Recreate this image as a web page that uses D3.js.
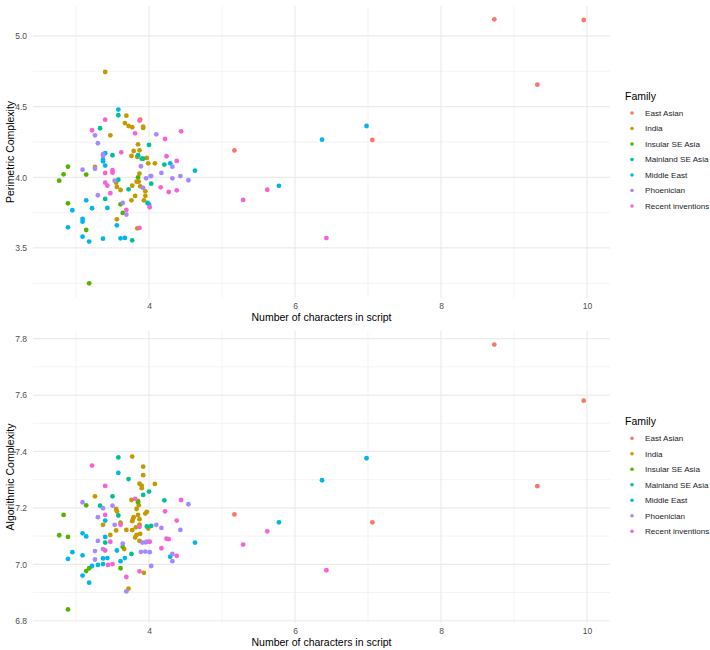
<!DOCTYPE html>
<html><head><meta charset="utf-8">
<script src="https://cdn.jsdelivr.net/npm/d3@7"></script>
<style>body{margin:0;background:#fff}svg{display:block;font-family:"Liberation Sans",Arial,sans-serif}</style>
</head><body><svg id="c" width="710" height="650"></svg>
<script>
const families = ["East Asian","India","Insular SE Asia","Mainland SE Asia","Middle East","Phoenician","Recent inventions"];
const colors = ["#F8766D","#C49A00","#53B400","#00C094","#00B6EB","#A58AFF","#FB61D7"];
const xTicks = [4,6,8,10];
const xMinor = [3,5,7,9];
const perimTicks = [3.5,4.0,4.5,5.0];
const perimMinor = [3.25,3.75,4.25,4.75];
const algoTicks = [6.8,7.0,7.2,7.4,7.6,7.8];
const algoMinor = [6.9,7.1,7.3,7.5,7.7];

// Perimetric complexity: [chars, value]
const perimEastAsian = [[5.17,4.19],[7.06,4.264],[8.73,5.118],[9.32,4.655],[9.955,5.113]];
const perimIndia = [[3.40,4.745],[3.69,4.436],[3.67,4.384],[3.72,4.363],[3.77,4.354],[3.88,4.408],[3.92,4.358],[3.92,4.349],
  [3.47,4.297],[3.85,4.233],[3.79,4.186],[3.87,4.191],[3.76,4.151],[3.84,4.144],[3.97,4.137],[3.99,4.099],[4.08,4.099],
  [3.26,4.073],[3.87,4.026],[3.55,3.962],[3.56,3.932],[3.61,3.910],[3.77,3.941],[3.83,3.969],[3.86,3.969],[3.88,3.936],
  [3.81,3.868],[3.95,3.901],[3.95,3.868],[3.76,3.837],[3.93,3.837],[3.56,3.703],[3.84,3.639]];
const perimInsular = [[2.77,3.976],[2.83,4.021],[2.89,4.075],[2.89,3.816],[3.14,4.019],[3.14,3.627],[3.18,3.25],
  [3.61,3.809],[3.64,3.748],[3.85,4.0]];
const perimMainland = [[3.58,4.439],[3.33,4.347],[4.00,4.229],[3.50,4.156],[3.85,4.156],[3.90,4.132],[3.92,4.132],
  [4.21,4.090],[3.58,3.983],[4.03,3.955],[3.72,3.915],[3.40,3.847],[3.98,3.818],[3.77,3.554]];
const perimMiddleEast = [[3.58,4.479],[3.40,4.170],[3.37,4.125],[3.37,4.113],[3.40,4.083],[4.29,4.099],[4.63,4.047],
  [3.14,3.837],[2.95,3.767],[3.22,3.781],[3.43,3.783],[4.00,3.809],[3.09,3.705],[3.09,3.686],[2.89,3.646],[3.56,3.660],
  [3.09,3.580],[3.18,3.545],[3.37,3.566],[3.61,3.568],[3.67,3.571],[5.78,3.94],[6.37,4.266],[6.98,4.363]];
const perimPhoenician = [[3.26,4.297],[4.10,4.304],[3.30,4.241],[3.37,4.163],[3.37,4.151],[3.26,4.061],[3.89,4.078],
  [3.09,4.054],[4.17,4.031],[4.32,4.075],[3.96,3.993],[4.02,4.009],[4.03,4.009],[4.43,4.009],[4.32,3.993],[4.54,3.979],
  [3.53,3.976],[3.92,3.925],[3.30,3.873],[3.64,3.818],[3.69,3.736]];
const perimRecent = [[3.40,4.408],[3.87,4.401],[3.22,4.333],[3.81,4.311],[4.44,4.325],[4.22,4.271],[3.62,4.177],
  [4.24,4.149],[4.38,4.116],[3.50,4.050],[3.50,4.033],[3.40,4.031],[3.40,3.962],[3.43,3.941],[4.16,3.929],[4.38,3.908],
  [4.27,3.896],[3.47,3.887],[3.69,3.769],[4.01,3.788],[3.87,3.642],[5.29,3.84],[5.62,3.912],[6.43,3.57]];

// Algorithmic complexity: [chars, value]
const algoEastAsian = [[5.17,7.177],[7.06,7.149],[8.73,7.779],[9.32,7.277],[9.955,7.58]];
const algoIndia = [[3.77,7.382],[3.92,7.346],[3.92,7.316],[3.87,7.286],[3.90,7.279],[3.90,7.270],[4.08,7.285],[3.26,7.241],
  [3.76,7.228],[3.85,7.225],[3.86,7.209],[3.83,7.196],[3.85,7.175],[3.55,7.196],[3.56,7.188],[3.97,7.186],[3.95,7.180],
  [3.79,7.167],[3.78,7.161],[3.77,7.153],[3.87,7.160],[3.87,7.141],[3.82,7.131],[3.37,7.140],[3.61,7.148],[3.99,7.127],
  [3.55,7.120],[3.69,7.122],[3.77,7.121],[3.47,7.104],[3.83,7.104],[3.88,7.108],[3.81,7.095],[3.87,7.083],[3.66,7.054],
  [3.93,6.970],[3.72,6.914]];
const algoInsular = [[2.77,7.103],[2.83,7.175],[2.89,7.097],[2.89,6.84],[3.14,7.209],[3.14,6.976],[3.18,6.986],
  [3.61,6.986],[3.64,7.062],[3.85,7.22]];
const algoMainland = [[3.58,7.379],[3.72,7.302],[3.50,7.241],[3.92,7.246],[4.00,7.258],[4.21,7.227],[3.33,7.208],
  [3.58,7.173],[3.97,7.134],[4.03,7.136],[3.40,7.077],[3.76,7.037]];
const algoMiddleEast = [[3.58,7.324],[3.40,7.155],[3.09,7.110],[3.14,7.099],[3.40,7.097],[4.63,7.077],[2.95,7.043],
  [2.89,7.019],[3.09,7.032],[3.56,7.049],[4.29,7.027],[3.37,7.021],[3.43,7.022],[3.30,6.998],[3.37,7.001],[3.22,6.994],
  [3.61,7.011],[3.67,7.022],[3.09,6.960],[3.18,6.935],[5.78,7.149],[6.37,7.298],[6.98,7.376]];
const algoPhoenician = [[4.54,7.213],[3.09,7.220],[3.37,7.199],[3.50,7.208],[3.30,7.167],[3.53,7.140],[4.10,7.140],
  [4.17,7.129],[4.43,7.122],[3.30,7.083],[3.91,7.077],[3.95,7.078],[3.97,7.080],[3.26,7.047],[3.37,7.054],[3.64,7.073],
  [3.89,7.044],[3.95,7.045],[4.01,7.043],[4.32,7.037],[4.32,7.011],[3.26,7.017],[4.03,6.994],[3.69,6.904]];
const algoRecent = [[3.22,7.350],[3.40,7.278],[3.81,7.232],[4.44,7.228],[4.22,7.188],[3.40,7.175],[3.61,7.140],
  [4.38,7.155],[3.47,7.080],[4.01,7.080],[4.24,7.091],[4.27,7.089],[3.40,7.049],[4.17,7.057],[4.38,7.030],[3.44,6.998],
  [3.50,7.001],[3.69,6.955],[3.87,6.975],[3.87,7.133],[5.29,7.07],[5.62,7.117],[6.43,6.979]];

const perimSeries = [perimEastAsian,perimIndia,perimInsular,perimMainland,perimMiddleEast,perimPhoenician,perimRecent];
const algoSeries = [algoEastAsian,algoIndia,algoInsular,algoMainland,algoMiddleEast,algoPhoenician,algoRecent];

const svg = d3.select("#c");

function panel(cfg){
  const g = svg.append("g");
  const x = d3.scaleLinear().domain([2.411,10.315]).range([33,610]);
  const y = d3.scaleLinear().domain(cfg.yDomain).range([cfg.bottom,cfg.top]);
  // minor grid
  g.selectAll(null).data(xMinor).join("line")
    .attr("x1",d=>x(d)).attr("x2",d=>x(d)).attr("y1",cfg.top).attr("y2",cfg.bottom)
    .attr("stroke","#EBEBEB").attr("stroke-width",0.6);
  g.selectAll(null).data(cfg.minor).join("line")
    .attr("y1",d=>y(d)).attr("y2",d=>y(d)).attr("x1",33).attr("x2",610)
    .attr("stroke","#EBEBEB").attr("stroke-width",0.6);
  // major grid
  g.selectAll(null).data(xTicks).join("line")
    .attr("x1",d=>x(d)).attr("x2",d=>x(d)).attr("y1",cfg.top).attr("y2",cfg.bottom)
    .attr("stroke","#EBEBEB").attr("stroke-width",1.2);
  g.selectAll(null).data(cfg.ticks).join("line")
    .attr("y1",d=>y(d)).attr("y2",d=>y(d)).attr("x1",33).attr("x2",610)
    .attr("stroke","#EBEBEB").attr("stroke-width",1.2);
  // axes (text only)
  const xa = g.append("g").attr("transform",`translate(0,${cfg.bottom+2})`)
    .call(d3.axisBottom(x).tickValues(xTicks).tickSize(0).tickFormat(d3.format("d")));
  xa.select(".domain").remove();
  xa.selectAll("text").attr("fill","#4D4D4D").attr("font-size",8.5).attr("dy","0.71em");
  const ya = g.append("g").attr("transform",`translate(30,0)`)
    .call(d3.axisLeft(y).tickValues(cfg.ticks).tickSize(0).tickFormat(d3.format(".1f")));
  ya.select(".domain").remove();
  ya.selectAll("text").attr("fill","#4D4D4D").attr("font-size",8.5).attr("dy","0.32em");
  g.append("text").attr("x",(33+610)/2).attr("y",cfg.bottom+22.5).attr("text-anchor","middle")
    .attr("font-size",10.5).attr("fill","#000").text("Number of characters in script");
  g.append("text").attr("transform",`translate(14,${(cfg.top+cfg.bottom)/2}) rotate(-90)`)
    .attr("text-anchor","middle").attr("font-size",10.5).attr("fill","#000").text(cfg.ytitle);
  // points
  cfg.series.forEach((arr,i)=>{
    g.append("g").selectAll("circle").data(arr).join("circle")
      .attr("cx",d=>x(d[0])).attr("cy",d=>y(d[1])).attr("r",2.4).attr("fill",colors[i]);
  });
  // legend
  const lg = g.append("g");
  const first = cfg.legendTop;
  lg.append("text").attr("x",625).attr("y",first-16.6).attr("dy","0.35em").attr("font-size",10.5).attr("fill","#000").text("Family");
  families.forEach((f,i)=>{
    lg.append("circle").attr("cx",632).attr("cy",first+i*15.5).attr("r",1.8).attr("fill",colors[i]);
    lg.append("text").attr("x",645).attr("y",first+i*15.5).attr("dy","0.35em").attr("font-size",8.1).attr("fill","#1a1a1a").text(f);
  });
}

panel({top:6,bottom:298,yDomain:[3.146,5.212],ticks:perimTicks,minor:perimMinor,
  ytitle:"Perimetric Complexity",series:perimSeries,legendTop:113});
panel({top:331,bottom:623,yDomain:[6.792,7.827],ticks:algoTicks,minor:algoMinor,
  ytitle:"Algorithmic Complexity",series:algoSeries,legendTop:438.3});
</script></body></html>
